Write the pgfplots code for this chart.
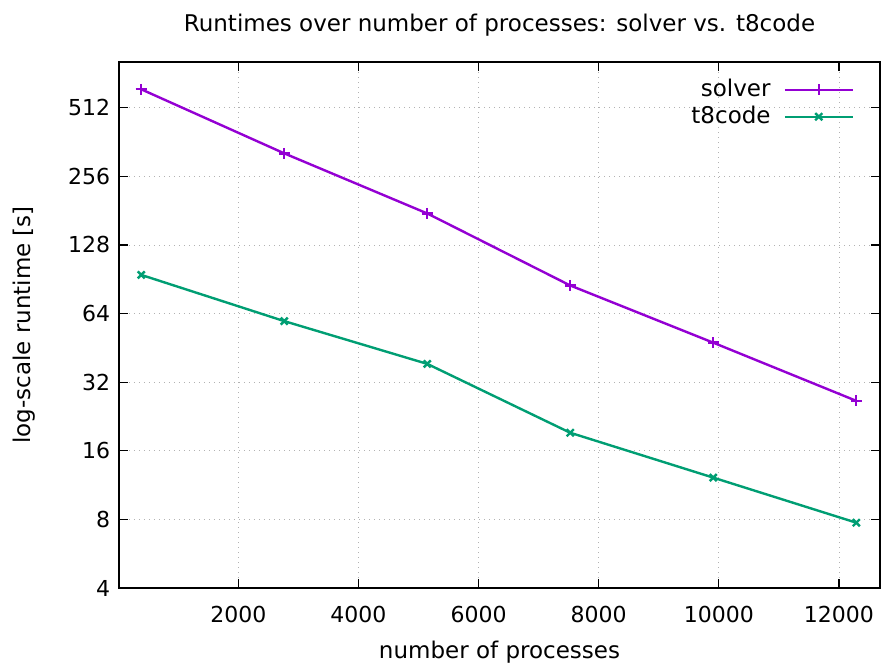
\documentclass[border=0pt]{standalone}
\usepackage{fontspec}
\setmainfont{DejaVu Sans}
\usepackage{pgfplots}
\pgfplotsset{compat=1.18}
\definecolor{gpurple}{HTML}{9400D3}
\definecolor{ggreen}{HTML}{009E73}
\begin{document}
\fontsize{23}{27}\selectfont
\begin{tikzpicture}[x=1pt,y=1pt]
\path[use as bounding box] (-119,-78) rectangle (762,588);
\begin{axis}[
  at={(0,0)}, anchor=south west,
  scale only axis, width=761pt, height=526pt,
  ymode=log, log basis y=2,
  xmin=14, xmax=12683,
  ymin=4, ymax=813,
  xtick={2000,4000,6000,8000,10000,12000},
  scaled x ticks=false,
  ytick={4,8,16,32,64,128,256,512},
  yticklabels={4,8,16,32,64,128,256,512},
  /pgf/number format/set thousands separator={},
  /pgf/number format/assume math mode=true,
  tick align=inside, major tick length=9pt,
  tick style={black, line width=1.2pt},
  axis line style={black, line width=1.5pt},
  grid=major,
  major grid style={gray!60, dash pattern=on 1pt off 4pt, line width=0.9pt},
  ticklabel style={font=\fontsize{22}{26}\selectfont},
  yticklabel style={xshift=-1pt},
  xticklabel style={yshift=-10pt},
  title={Runtimes over number of processes: solver vs. t8code},
  title style={font=\fontsize{23}{27}\selectfont, yshift=12pt},
  xlabel={number of processes},
  ylabel={log-scale runtime [s]},
  label style={font=\fontsize{23}{27}\selectfont},
  xlabel style={yshift=-3pt},
  ylabel style={yshift=17pt},
  legend style={draw=none, fill=none, at={(0.97,0.975)}, anchor=north east,
    font=\fontsize{23}{27}\selectfont, row sep=2pt, column sep=11pt},
  legend cell align=right,
  legend plot pos=right,
  legend image code/.code={\draw[mark repeat=2,mark phase=2] plot coordinates {(0pt,0pt) (34pt,0pt) (68pt,0pt)};},
]
\addplot[gpurple, line width=2.4pt, mark=+, mark size=5.5pt, mark options={line width=2.4pt}]
  coordinates {(384,617) (2765,323) (5146,176) (7526,85) (9907,47.7) (12288,26.5)};
\addlegendentry{solver}
\addplot[ggreen, line width=2.4pt, mark=x, mark size=5pt, mark options={line width=2.4pt}]
  coordinates {(384,94.6) (2765,59.3) (5146,38.5) (7526,19.2) (9907,12.2) (12288,7.74)};
\addlegendentry{t8code}
\end{axis}
\end{tikzpicture}
\end{document}
